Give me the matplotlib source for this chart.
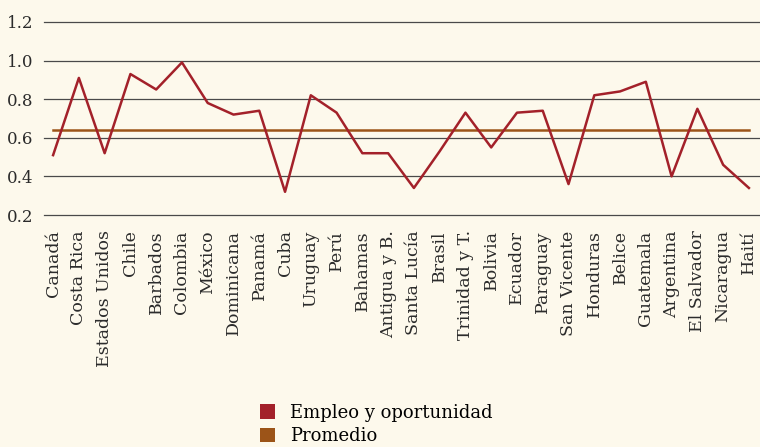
import matplotlib
matplotlib.use('Agg')
import matplotlib.pyplot as plt
from matplotlib.patches import Patch

# Datos: empleo y oportunidad por país
paises = ['Canadá', 'Costa Rica', 'Estados Unidos', 'Chile', 'Barbados', 'Colombia',
          'México', 'Dominicana', 'Panamá', 'Cuba', 'Uruguay', 'Perú', 'Bahamas',
          'Antigua y B.', 'Santa Lucía', 'Brasil', 'Trinidad y T.', 'Bolivia',
          'Ecuador', 'Paraguay', 'San Vicente', 'Honduras', 'Belice', 'Guatemala',
          'Argentina', 'El Salvador', 'Nicaragua', 'Haití']
empleo = [0.51, 0.91, 0.52, 0.93, 0.85, 0.99, 0.78, 0.72, 0.74, 0.32, 0.82, 0.73,
          0.52, 0.52, 0.34, 0.53, 0.73, 0.55, 0.73, 0.74, 0.36, 0.82, 0.84, 0.89,
          0.40, 0.75, 0.46, 0.34]
promedio = 0.64

fondo = '#FDF9EC'
rojo = '#A3212A'
marron = '#9C5418'

plt.rcParams['font.family'] = ['DejaVu Serif']

fig = plt.figure(figsize=(7.6, 4.47), dpi=100, facecolor=fondo)
ax = fig.add_axes([0.058, 0.519, 0.942, 0.432], facecolor=fondo)

x = list(range(len(paises)))
ax.plot(x, empleo, color=rojo, linewidth=1.8, zorder=3)
ax.plot(x, [promedio] * len(x), color=marron, linewidth=1.8, zorder=2)

ax.set_ylim(0.2, 1.2)
ax.set_xlim(-0.35, len(paises) - 1 + 0.43)
ax.set_yticks([0.2, 0.4, 0.6, 0.8, 1.0, 1.2])
ax.set_yticklabels(['0.2', '0.4', '0.6', '0.8', '1.0', '1.2'], fontsize=12, color='#2b2b2b')
ax.set_xticks(x)
ax.set_xticklabels(paises, rotation=90, fontsize=12.5, color='#2b2b2b')
ax.tick_params(axis='both', length=0)
ax.tick_params(axis='y', pad=8)
ax.tick_params(axis='x', pad=11)
ax.grid(axis='y', color='#4a4a4a', linewidth=0.9)
for linea in ax.get_ygridlines():
    linea.set_clip_on(False)
ax.set_axisbelow(True)
for s in ax.spines.values():
    s.set_visible(False)

handles = [Patch(facecolor=rojo, label='Empleo y oportunidad'),
           Patch(facecolor=marron, label='Promedio')]
fig.legend(handles=handles, loc='upper left', bbox_to_anchor=(0.33, 0.117),
           frameon=False, fontsize=13, handlelength=0.85, handleheight=0.85,
           handletextpad=0.8, labelspacing=0.3, borderpad=0)

fig.savefig('out.png', dpi=100, facecolor=fondo)
